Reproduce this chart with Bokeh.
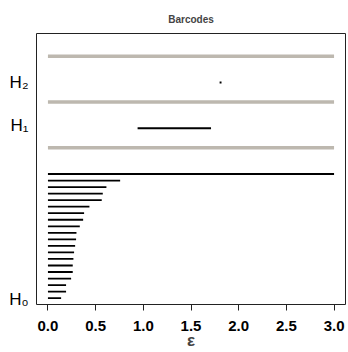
from bokeh.plotting import figure
from bokeh.models import Range1d, FixedTicker, ColumnDataSource
from bokeh.embed import file_html
from bokeh.resources import INLINE

# ---- data ----
dim0_birth = [0.0] * 20
dim0_death = [3.0, 0.757, 0.613, 0.575, 0.564, 0.435, 0.379, 0.369, 0.334, 0.299,
              0.295, 0.285, 0.274, 0.267, 0.260, 0.260, 0.243, 0.190, 0.190, 0.138]
dim1_birth = [0.94]
dim1_death = [1.71]
dim2_birth = [1.80]
dim2_death = [1.82]
x_ticks = [0.0, 0.5, 1.0, 1.5, 2.0, 2.5, 3.0]
x_max = 3.0
group_labels = ["H\u2080", "H\u2081", "H\u2082"]

# ---- layout of bars along y ----
n0 = len(dim0_death)
y0 = list(range(n0, 0, -1))             # longest bar on top
sep1 = n0 + 4
y1 = [sep1 + 3]
sep2 = sep1 + 7
y2 = [sep2 + 3]
sep3 = sep2 + 7

p = figure(width=348, height=352, output_backend="svg", toolbar_location=None,
           x_range=Range1d(-0.12, 3.12), y_range=Range1d(0.03, 41.5),
           min_border_left=36, min_border_right=3, min_border_top=33, min_border_bottom=45)

p.title.text = "Barcodes"
p.title.align = "center"
p.title.vertical_align = "top"
p.title.text_font = "Liberation Sans"
p.title.text_font_size = "10px"
p.title.text_font_style = "bold"
p.title.offset = 0
p.title.standoff = 14

p.xgrid.visible = False
p.ygrid.visible = False
p.outline_line_color = "#222222"
p.outline_line_width = 1
p.background_fill_color = "white"
p.border_fill_color = "white"

xa = p.xaxis[0]
xa.ticker = FixedTicker(ticks=x_ticks)
xa.major_label_overrides = {t: f"{t:.1f}" for t in x_ticks}
xa.axis_line_color = None
xa.major_tick_in = 0
xa.major_tick_out = 6
xa.major_tick_line_color = "#222222"
xa.minor_tick_line_color = None
xa.major_label_text_font = "Liberation Sans"
xa.major_label_text_font_size = "15px"
xa.major_label_text_font_style = "bold"
xa.major_label_text_color = "black"
xa.major_label_standoff = 10
xa.axis_label = "ε"
xa.axis_label_text_font = "Liberation Sans"
xa.axis_label_text_font_size = "17px"
xa.axis_label_text_font_style = "bold"
xa.axis_label_standoff = -3

# group labels on the y axis
label_y = [0.75, y1[0] + 0.4, y2[0]]
ya = p.yaxis[0]
ya.ticker = FixedTicker(ticks=label_y)
ya.major_label_overrides = {v: t for v, t in zip(label_y, group_labels)}
ya.axis_line_color = None
ya.major_tick_line_color = None
ya.minor_tick_line_color = None
ya.major_tick_in = 0
ya.major_tick_out = 0
ya.major_label_standoff = 8
ya.major_label_text_font = "Liberation Sans"
ya.major_label_text_font_size = "17px"
ya.major_label_text_color = "black"

# separators
seps = [sep1, sep2, sep3]
p.segment(x0=[0.0] * 3, x1=[x_max] * 3, y0=seps, y1=seps,
          line_color="#bdb8af", line_width=3.5)

# bars
src0 = ColumnDataSource(dict(x0=dim0_birth, x1=dim0_death, y=y0))
p.segment(x0="x0", x1="x1", y0="y", y1="y", source=src0, line_color="black", line_width=1.8)
p.segment(x0=dim1_birth, x1=dim1_death, y0=y1, y1=y1, line_color="black", line_width=1.8)
p.segment(x0=dim2_birth, x1=dim2_death, y0=y2, y1=y2, line_color="black", line_width=1.8)

open("out.html", "w").write(file_html(p, INLINE))
